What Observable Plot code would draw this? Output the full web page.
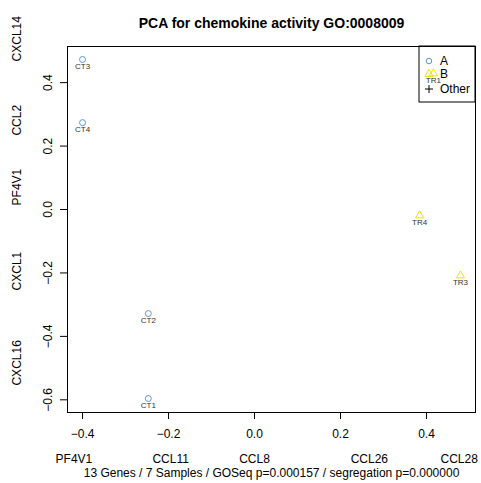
<!DOCTYPE html>
<html>
<head>
<meta charset="utf-8">
<script src="https://cdn.jsdelivr.net/npm/d3@7"></script>
<script src="https://cdn.jsdelivr.net/npm/@observablehq/plot@0.6"></script>
<style>
  html, body { margin: 0; padding: 0; background: #fff; }
  svg { display: block; font-family: "Liberation Sans", Arial, sans-serif; }
</style>
</head>
<body>
<div id="chart"></div>
<script>
// PCA scores per sample
const samples = ["CT1", "CT2", "CT3", "CT4", "TR1", "TR3", "TR4"];
const groups  = ["A", "A", "A", "A", "B", "B", "B"];
const pc1     = [-0.247, -0.247, -0.400, -0.400, 0.416, 0.479, 0.384];
const pc2     = [-0.596, -0.328, 0.473, 0.274, 0.429, -0.208, -0.019];

// Genes annotating the axes
const xGenes    = ["PF4V1", "CCL11", "CCL8", "CCL26", "CCL28"];
const xGenePos  = [-0.420, -0.195, 0.000, 0.267, 0.476];
const yGenes    = ["CXCL14", "CCL2", "PF4V1", "CXCL1", "CXCL16"];
const yGenePos  = [0.467, 0.233, 0.013, -0.255, -0.555];

const xTicks = [-0.4, -0.2, 0.0, 0.2, 0.4];
const yTicks = [-0.6, -0.4, -0.2, 0.0, 0.2, 0.4];

const legendKeys = ["A", "B", "Other"];

const title = "PCA for chemokine activity GO:0008009";
const footer = "13 Genes / 7 Samples / GOSeq p=0.000157 / segregation p=0.000000";

const colA = "#5b96d6";
const colB = "#f2e200";

const pts = samples.map((s, i) => ({sample: s, group: groups[i], x: pc1[i], y: pc2[i]}));
const xg = xGenes.map((g, i) => ({gene: g, x: xGenePos[i]}));
const yg = yGenes.map((g, i) => ({gene: g, y: yGenePos[i]}));
const symbolOf = {A: "circle", B: "triangle", Other: "plus"};
const colorOf = {A: colA, B: colB, Other: "#000"};
const fmt = d => d.toFixed(1).replace("-", "\u2212");

const W = 481, H = 483;
const M = {left: 67, right: 6, top: 46, bottom: 71};

const chart = Plot.plot({
  width: W,
  height: H,
  marginLeft: M.left,
  marginRight: M.right,
  marginTop: M.top,
  marginBottom: M.bottom,
  x: {domain: [-0.435, 0.514], axis: null},
  y: {domain: [-0.640, 0.514], axis: null},
  style: {fontFamily: "Liberation Sans, Arial, sans-serif", color: "#000"},
  marks: [
    Plot.frame({stroke: "#000"}),
    // x axis ticks and labels
    Plot.axisX({ticks: xTicks, tickSize: 7, tickPadding: 10, tickFormat: fmt, fontSize: 12, label: null, anchor: "bottom"}),
    // y axis ticks and rotated labels
    Plot.axisY({ticks: yTicks, tickSize: 7, tickFormat: () => "", label: null, anchor: "left"}),
    Plot.text(yTicks, {y: d => d, text: fmt, frameAnchor: "left", dx: -19, rotate: -90, fontSize: 12, textAnchor: "middle"}),
    // gene annotations
    Plot.text(xg, {x: "x", text: "gene", frameAnchor: "bottom", dy: 50, fontSize: 12}),
    Plot.text(yg, {y: "y", text: "gene", frameAnchor: "left", dx: -50, rotate: -90, fontSize: 12}),
    // sample labels and points
    Plot.text(pts, {x: "x", y: "y", text: "sample", dy: 7, fontSize: 8, fill: "#333"}),
    Plot.dot(pts, {x: "x", y: "y", symbol: d => symbolOf[d.group], stroke: d => colorOf[d.group], r: 3, strokeWidth: 1}),
    // title and footer
    Plot.text([title], {frameAnchor: "top", dy: -28, fontSize: 14, fontWeight: "bold", text: d => d}),
    Plot.text([footer], {frameAnchor: "bottom", dy: 64, fontSize: 12, text: d => d})
  ]
});

// Legend box and entries in the top-right corner of the panel
const svg = d3.select(chart);
const boxRight = W - M.right, boxTop = M.top;
const lgG = svg.append("g").attr("text-anchor", "start");
lgG.append("rect").attr("x", boxRight - 56).attr("y", boxTop).attr("width", 56).attr("height", 56)
  .attr("fill", "none").attr("stroke", "#000");
const rowY = [15, 28, 43];
legendKeys.forEach((k, i) => {
  const cy = boxTop + rowY[i], cx = boxRight - 46;
  const d = k === "Other" ? "M-4,0H4M0,-4V4"
    : d3.symbol(k === "A" ? d3.symbolCircle : d3.symbolTriangle, k === "A" ? 24 : 30)();
  lgG.append("path").attr("d", d)
    .attr("transform", `translate(${cx},${cy})`)
    .attr("fill", "none").attr("stroke", colorOf[k]).attr("stroke-width", 1);
  lgG.append("text").attr("x", cx + 11).attr("y", cy).attr("dy", "0.35em")
    .attr("font-size", 12).text(k);
});

document.getElementById("chart").appendChild(chart);
</script>
</body>
</html>
